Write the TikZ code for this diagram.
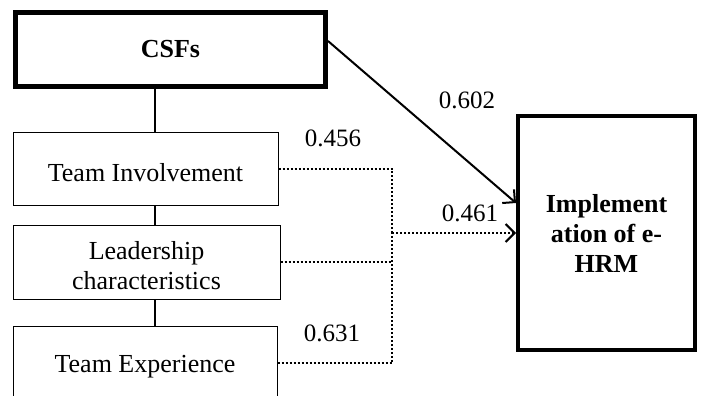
\documentclass[tikz,border=0pt]{standalone}
\usepackage{fontspec}
\setmainfont{Liberation Serif}
\usetikzlibrary{arrows.meta}
\begin{document}
\begin{tikzpicture}[x=1pt,y=-1pt,
  txt/.style={inner sep=0pt,align=center,font=\fontsize{26}{30}\selectfont},
  thinbox/.style={draw,line width=1pt,inner sep=0pt,label={[txt,yshift=-4pt]center:#1}},
  thickbox/.style={draw,line width=5pt,inner sep=0pt,align=center,font=\fontsize{26}{30}\selectfont\bfseries},
  link/.style={line width=2pt},
  dots/.style={line width=2pt,dash pattern=on 2pt off 2pt},
  tip/.style={-{Straight Barb[length=9pt,width=18pt,line width=2pt]}},
  val/.style={font=\fontsize{25}{30}\selectfont,inner sep=0pt}]
\useasboundingbox (0,0) rectangle (702,396);
\clip (0,0) rectangle (702,396);
\node[thickbox,minimum width=310pt,minimum height=74pt] (csf) at (170.5,49.5) {CSFs};
\node[thinbox={Team Involvement},minimum width=265pt,minimum height=73pt] (ti) at (145.5,168.5) {};
\node[thinbox={Leadership\\characteristics},minimum width=267pt,minimum height=74pt] (lc) at (146.5,262) {};
\node[thinbox={Team Experience},minimum width=264pt,minimum height=74pt] (te) at (145,363) {};
\node[thickbox,line width=4pt,minimum width=177pt,minimum height=234pt] (impl) at (606.5,233) {Implement\\ation of e-\\HRM};
\coordinate (lx) at (155,0);
\coordinate (j) at (392,233);
\coordinate (a1) at (328,41);
\draw[link] (csf.south -| lx) -- (ti.north -| lx);
\draw[link] (ti.south -| lx) -- (lc.north -| lx);
\draw[link] (lc.south -| lx) -- (te.north -| lx);
\draw[link,tip] (a1) -- ([yshift=30pt]impl.west);
\draw[dots] (ti.east) -| (j);
\draw[dots] (lc.east) -| (j);
\draw[dots] (te.east) -| (j);
\draw[dots,tip] (j) -- (impl.west |- j);
\node[val] (v1) at (467,100) {0.602};
\node[val] (v2) at (333,138) {0.456};
\node[val] (v3) at (470,213) {0.461};
\node[val] (v4) at (332,333) {0.631};
\end{tikzpicture}
\end{document}
